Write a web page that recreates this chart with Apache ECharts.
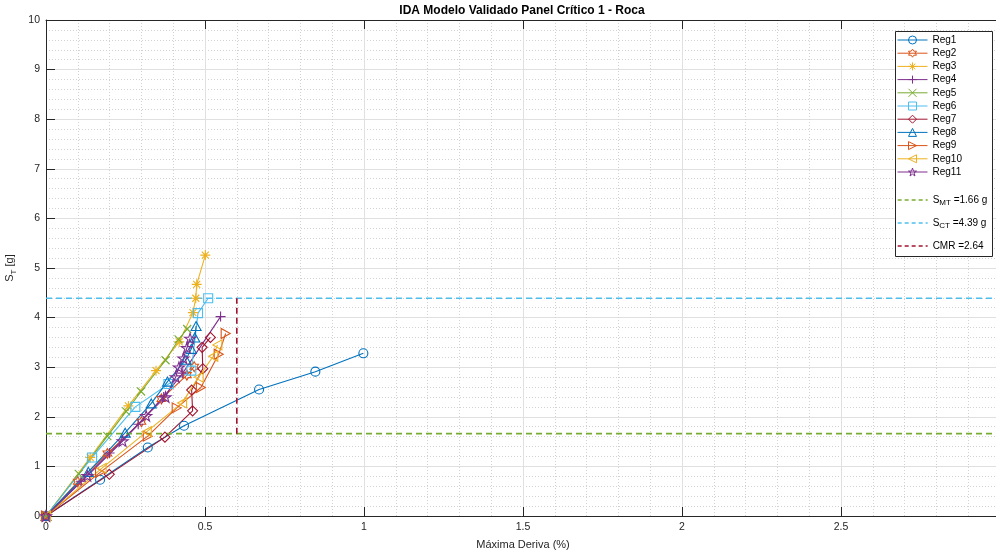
<!DOCTYPE html>
<html>
<head>
<meta charset="utf-8">
<script src="https://cdn.jsdelivr.net/npm/echarts@6/dist/echarts.min.js"></script>
<style>
  html, body { margin: 0; padding: 0; background: #fff; }
  #chart { width: 996px; height: 554px; }
</style>
</head>
<body>
<div id="chart"></div>
<script>
// IDA curves: [max drift (%), S_T (g)] per record
const reg1  = [[0,0],[0.17,0.73],[0.32,1.38],[0.434,1.82],[0.67,2.55],[0.847,2.91],[0.998,3.28]];
const reg2  = [[0,0],[0.10,0.69],[0.193,1.26],[0.30,1.90],[0.363,2.36],[0.443,2.84],[0.466,3.01]];
const reg3  = [[0,0],[0.139,1.18],[0.259,2.22],[0.346,2.93],[0.419,3.51],[0.462,4.10],[0.471,4.39],[0.474,4.67],[0.501,5.26]];
const reg4  = [[0,0],[0.11,0.70],[0.20,1.27],[0.29,1.85],[0.37,2.40],[0.43,2.88],[0.549,4.02]];
const reg5  = [[0,0],[0.103,0.85],[0.193,1.61],[0.252,2.11],[0.299,2.51],[0.376,3.14],[0.417,3.56],[0.444,3.77]];
const reg6  = [[0,0],[0.145,1.18],[0.281,2.20],[0.385,2.66],[0.457,2.93],[0.478,4.09],[0.51,4.39]];
const reg7  = [[0,0],[0.199,0.84],[0.374,1.59],[0.461,2.12],[0.458,2.54],[0.493,2.97],[0.491,3.40],[0.517,3.60]];
const reg8  = [[0,0],[0.133,0.89],[0.249,1.68],[0.331,2.27],[0.382,2.71],[0.44,3.15],[0.457,3.37],[0.468,3.60],[0.472,3.83]];
const reg9  = [[0,0],[0.17,0.88],[0.32,1.61],[0.411,2.18],[0.487,2.59],[0.543,3.26],[0.565,3.68]];
const reg10 = [[0,0],[0.175,0.96],[0.317,1.70],[0.428,2.28],[0.48,2.80],[0.526,3.22],[0.539,3.45]];
const reg11 = [[0,0],[0.13,0.81],[0.241,1.51],[0.315,2.02],[0.376,2.40],[0.408,2.80],[0.418,3.00],[0.432,3.18],[0.443,3.39],[0.453,3.58]];

const records = [reg1, reg2, reg3, reg4, reg5, reg6, reg7, reg8, reg9, reg10, reg11];
const recordNames = ['Reg1','Reg2','Reg3','Reg4','Reg5','Reg6','Reg7','Reg8','Reg9','Reg10','Reg11'];

// Reference intensities
const smt = 1.66;
const sct = 4.39;
const cmr = 2.64;
const cmrDrift = 0.6;

const xMax = 3;
const yMax = 10;

const palette = ['#0072BD','#D95319','#EDB120','#7E2F8E','#77AC30','#4DBEEE','#A2142F'];

const markers = [
  'circle',
  'path://M0,-10 L2.887,-5 L8.66,-5 L5.774,0 L8.66,5 L2.887,5 L0,10 L-2.887,5 L-8.66,5 L-5.774,0 L-8.66,-5 L-2.887,-5 Z',
  'path://M0,-10 L0,10 M-10,0 L10,0 M-7,-7 L7,7 M-7,7 L7,-7',
  'path://M0,-10 L0,10 M-10,0 L10,0',
  'path://M-10,-10 L10,10 M-10,10 L10,-10',
  'path://M-10,-10 L10,-10 L10,10 L-10,10 Z',
  'path://M0,-10 L10,0 L0,10 L-10,0 Z',
  'path://M0,-10 L10,8 L-10,8 Z',
  'path://M10,0 L-8,-10 L-8,10 Z',
  'path://M-10,0 L8,-10 L8,10 Z',
  'path://M0,-10 L2.245,-3.09 L9.511,-3.09 L3.633,1.18 L5.878,8.09 L0,3.82 L-5.878,8.09 L-3.633,1.18 L-9.511,-3.09 L-2.245,-3.09 Z'
];
const markerSizes = [9, 10, 10, 10, 8, 9, 10, 10, 10, 10, 11];
const clear = 'rgba(0,0,0,0)';

const series = records.map((data, i) => {
  const c = palette[i % palette.length];
  return {
    name: recordNames[i],
    type: 'line',
    data: data,
    symbol: markers[i],
    symbolSize: markerSizes[i],
    symbolKeepAspect: true,
    showAllSymbol: true,
    lineStyle: { color: c, width: 1.1 },
    itemStyle: { color: clear, borderColor: c, borderWidth: 1.1 },
    emphasis: { disabled: true },
    animation: false
  };
});

const smtName = 'S_MT =' + smt.toFixed(2) + ' g';
const sctName = 'S_CT =' + sct.toFixed(2) + ' g';
const cmrName = 'CMR =' + cmr.toFixed(2);
const refColors = ['#77AC30', '#4DBEEE', '#A2142F'];

function refLine(name, data, color) {
  return {
    name: name,
    type: 'line',
    data: data,
    symbol: 'none',
    lineStyle: { color: color, width: 1.6, type: [6, 4] },
    itemStyle: { color: color },
    emphasis: { disabled: true },
    animation: false
  };
}
series.push(refLine(smtName, [[0, smt], [xMax, smt]], refColors[0]));
series.push(refLine(sctName, [[0, sct], [xMax, sct]], refColors[1]));
series.push(refLine(cmrName, [[cmrDrift, smt], [cmrDrift, sct]], refColors[2]));

// Legend entries: hollow markers on the record lines, plain dashes for the reference lines
const recordLegend = recordNames.map((n, i) => ({
  name: n,
  itemStyle: { color: clear, borderColor: palette[i % palette.length], borderWidth: 1 },
  lineStyle: { width: 1 }
}));
const refLegend = [smtName, sctName, cmrName].map((n, i) => ({
  name: n,
  itemStyle: { color: clear, borderColor: clear, borderWidth: 0 },
  lineStyle: { width: 1.3, type: [4, 3], color: refColors[i] }
}));

const textColor = '#262626';
const font = 'Liberation Sans, Arial, Helvetica, sans-serif';

const legendText = {
  fontFamily: font, fontSize: 10, color: '#000',
  rich: {
    n: { fontFamily: font, fontSize: 10, color: '#000' },
    s: { fontFamily: font, fontSize: 8, color: '#000', padding: [6, 0, 0, 0] }
  }
};
function legendLabel(name) {
  const m = name.match(/^S_(\w+) (.*)$/);
  if (m) return '{n|S}{s|' + m[1] + '}{n| ' + m[2] + '}';
  return name;
}

const chart = echarts.init(document.getElementById('chart'), null, { renderer: 'canvas' });
chart.setOption({
  backgroundColor: '#fff',
  animation: false,
  textStyle: { fontFamily: font },
  graphic: [{
    type: 'text',
    x: 522, y: 11,
    style: {
      text: 'IDA Modelo Validado Panel Crítico 1 - Roca',
      fontFamily: font, fontSize: 12, fontWeight: 'bold', fill: '#000',
      textAlign: 'center', textVerticalAlign: 'middle'
    }
  }, {
    // legend frame
    type: 'rect',
    z: 8,
    shape: { x: 895.5, y: 31.5, width: 97, height: 225 },
    style: { fill: '#fff', stroke: '#262626', lineWidth: 1 }
  }],
  grid: { left: 46, top: 20, width: 954, height: 496, containLabel: false, outerBoundsMode: 'none' },
  legend: [{
    orient: 'vertical',
    left: 897, top: 35,
    padding: 0,
    itemWidth: 30, itemHeight: 10, itemGap: 3.2,
    data: recordLegend,
    textStyle: legendText,
    formatter: legendLabel,
    selectedMode: false,
    z: 10
  }, {
    orient: 'vertical',
    left: 897, top: 195,
    padding: 0,
    itemWidth: 30, itemHeight: 10, itemGap: 11,
    data: refLegend,
    textStyle: legendText,
    formatter: legendLabel,
    selectedMode: false,
    z: 10
  }],
  xAxis: [{
    type: 'value', min: 0, max: xMax, interval: 0.5,
    name: 'Máxima Deriva (%)', nameLocation: 'middle', nameGap: 23,
    nameTextStyle: { fontFamily: font, fontSize: 11, color: textColor },
    axisLine: { show: true, onZero: false, lineStyle: { color: textColor, width: 1 } },
    axisTick: { show: true, inside: true, length: 9, lineStyle: { color: textColor } },
    axisLabel: { fontFamily: font, fontSize: 10.5, color: textColor, margin: 6,
      formatter: v => (v >= xMax ? '' : String(v)) },
    splitLine: { show: true, lineStyle: { color: '#e0e0e0', width: 1 } },
    minorTick: { show: false, splitNumber: 5 },
    minorSplitLine: { show: true, lineStyle: { color: '#d2d2d2', width: 1, type: [1, 2] } }
  }, {
    type: 'value', min: 0, max: xMax, interval: 0.5, position: 'top',
    axisLine: { show: true, onZero: false, lineStyle: { color: textColor, width: 1 } },
    axisTick: { show: true, inside: true, length: 9, lineStyle: { color: textColor } },
    axisLabel: { show: false },
    splitLine: { show: false }
  }],
  yAxis: {
    type: 'value', min: 0, max: yMax, interval: 1,
    name: '{a|S}{b|T}{a| [g]}', nameLocation: 'middle', nameGap: 24,
    nameTextStyle: {
      rich: {
        a: { fontFamily: font, fontSize: 11, color: textColor },
        b: { fontFamily: font, fontSize: 8, color: textColor, padding: [6, 0, 0, 0] }
      }
    },
    axisLine: { show: true, onZero: false, lineStyle: { color: textColor, width: 1 } },
    axisTick: { show: true, inside: true, length: 9, lineStyle: { color: textColor } },
    axisLabel: { fontFamily: font, fontSize: 10.5, color: textColor, margin: 6 },
    splitLine: { show: true, lineStyle: { color: '#e0e0e0', width: 1 } },
    minorTick: { show: false, splitNumber: 5 },
    minorSplitLine: { show: true, lineStyle: { color: '#d2d2d2', width: 1, type: [1, 2] } }
  },
  series: series
});
</script>
</body>
</html>
